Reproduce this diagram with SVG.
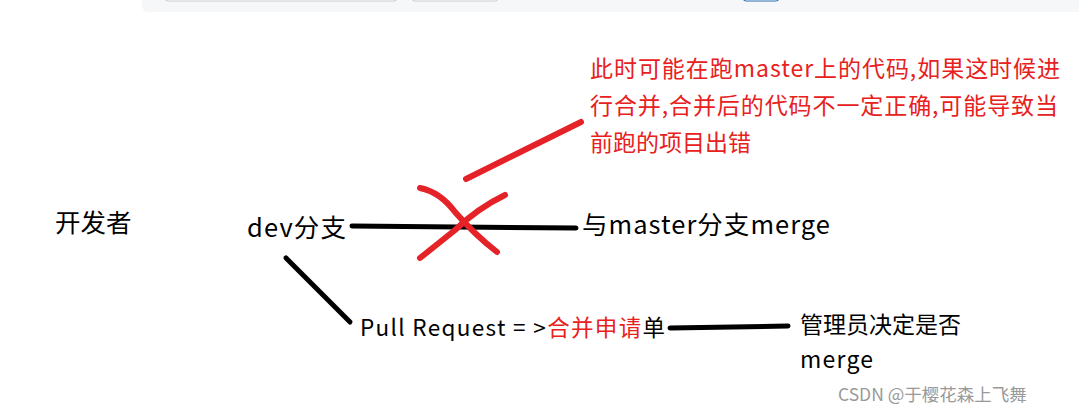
<svg xmlns="http://www.w3.org/2000/svg" width="1079" height="414" viewBox="0 0 1079 414">
<style>
text{font-family:"Microsoft YaHei","Noto Sans CJK SC",sans-serif;}
.b{font-size:25.5px;fill:#000}
.r{font-size:23px;fill:#e82020}
.k{stroke:#000;stroke-width:5;stroke-linecap:round;fill:none}
.red{stroke:#e52228;stroke-width:6;stroke-linecap:round;fill:none}
</style>
<rect width="1079" height="414" fill="#fff"/>
<rect x="142" y="-10" width="945" height="22" rx="6" fill="#f6f7f8"/>
<rect x="165" y="-10" width="232" height="11" rx="3" fill="#fff" stroke="#ccc"/>
<rect x="412" y="-10" width="86" height="11" rx="3" fill="#fff" stroke="#ccc"/>
<rect x="743" y="-10" width="36" height="11" rx="3" fill="#fff" stroke="#2a6fb0"/>
<g id="dev-node"><text class="b" x="55" y="232">开发者</text></g>
<g id="dev"><text class="b" x="247" y="237" textLength="99">dev分支</text></g>
<g id="merge"><text class="b" x="582" y="234" textLength="248">与master分支merge</text></g>
<g id="pr"><text x="360" y="336" style="font-size:22.5px" textLength="305">Pull Request = &gt;<tspan fill="#e82020">合并申请</tspan>单</text></g>
<g id="admin"><text class="b" x="800" y="333" style="font-size:23px">管理员决定是否</text><text class="b" x="800" y="368" style="font-size:23px" textLength="73">merge</text></g>
<g id="note"><text class="r" x="590" y="77" textLength="470">此时可能在跑master上的代码,如果这时候进</text><text class="r" x="590" y="114" textLength="468">行合并,合并后的代码不一定正确,可能导致当</text><text class="r" x="590" y="151">前跑的项目出错</text></g>
<g id="connectors">
<line class="k" x1="352" y1="226" x2="576" y2="228"/>
<line class="k" x1="286" y1="258" x2="350" y2="322"/>
<line class="k" x1="670" y1="328" x2="788" y2="326"/>
<line class="red" x1="466" y1="179" x2="581" y2="122"/>
<path class="red" d="M420 188 Q440 192 455 212 Q475 235 497 252"/>
<path class="red" d="M420 258 Q440 242 455 230 Q478 208 505 195"/>
</g>
<text x="838" y="401" style="font-size:17.5px;fill:#999">CSDN @于樱花森上飞舞</text>
</svg>
